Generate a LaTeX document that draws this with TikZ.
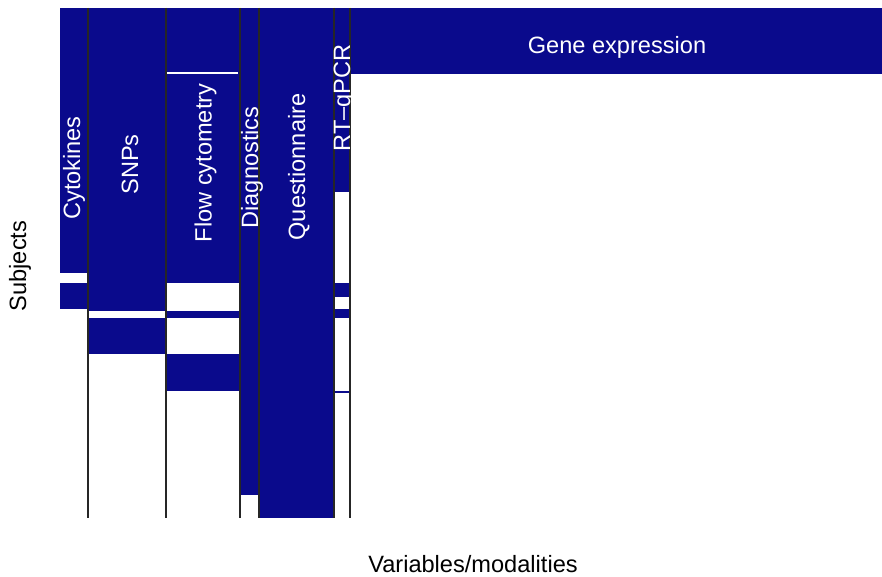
\documentclass[tikz,border=0pt]{standalone}
\usepackage{fontspec}
\setmainfont{Liberation Sans}
\definecolor{navy}{RGB}{10,10,140}
\begin{document}
\begin{tikzpicture}[x=1pt,y=-1pt,
  blk/.style={fill=navy, draw=none},
  lbl/.style={font=\fontsize{23.6}{28}\selectfont, inner sep=0pt},
  collbl/.style={lbl, text=white, rotate=90, anchor=base},
  sep/.style={draw=black!85, line width=1.3pt}]
\useasboundingbox (0,0) rectangle (882,577);
\fill[white] (0,0) rectangle (882,577);
% Cytokines
\fill[blk] (59.5,8) rectangle (88,272.5);
\fill[blk] (59.5,283) rectangle (88,308.5);
% SNPs
\fill[blk] (88,8) rectangle (166,311);
\fill[blk] (88,318) rectangle (166,354);
% Flow cytometry
\fill[blk] (166,8) rectangle (240,283);
\fill[blk] (166,310.5) rectangle (240,318);
\fill[blk] (166,354) rectangle (240,391);
% Diagnostics
\fill[blk] (240,8) rectangle (259,495);
% Questionnaire
\fill[blk] (259,8) rectangle (334,518);
% RT-qPCR
\fill[blk] (334,8) rectangle (350,192);
\fill[blk] (334,283) rectangle (350,296.5);
\fill[blk] (334,309) rectangle (350,318);
\fill[blk] (334,391.3) rectangle (350,393);
% Gene expression
\fill[blk] (350,8) rectangle (882,74);
% white line in flow cytometry
\draw[white, line width=1.6pt] (167,73) -- (238,73);
% separators
\foreach \xx in {88,166,240,259,334,350}
  \draw[sep] (\xx,8) -- (\xx,518);
% labels
\node[collbl] (cyt) at (80,168) {Cytokines};
\node[collbl] (snp) at (138,164.5) {SNPs};
\node[collbl] (flow) at (211.5,163) {Flow cytometry};
\node[collbl] (diag) at (258,167.5) {Diagnostics};
\node[collbl] (quest) at (305,167) {Questionnaire};
\node[collbl] (rt) at (350,98) {RT–qPCR};
\node[lbl, text=white, anchor=base] (gene) at (617,54) {Gene expression};
\node[lbl, rotate=90, anchor=base] (subj) at (26,266) {Subjects};
\node[lbl, anchor=base] (var) at (473,572) {Variables/modalities};
\end{tikzpicture}
\end{document}
